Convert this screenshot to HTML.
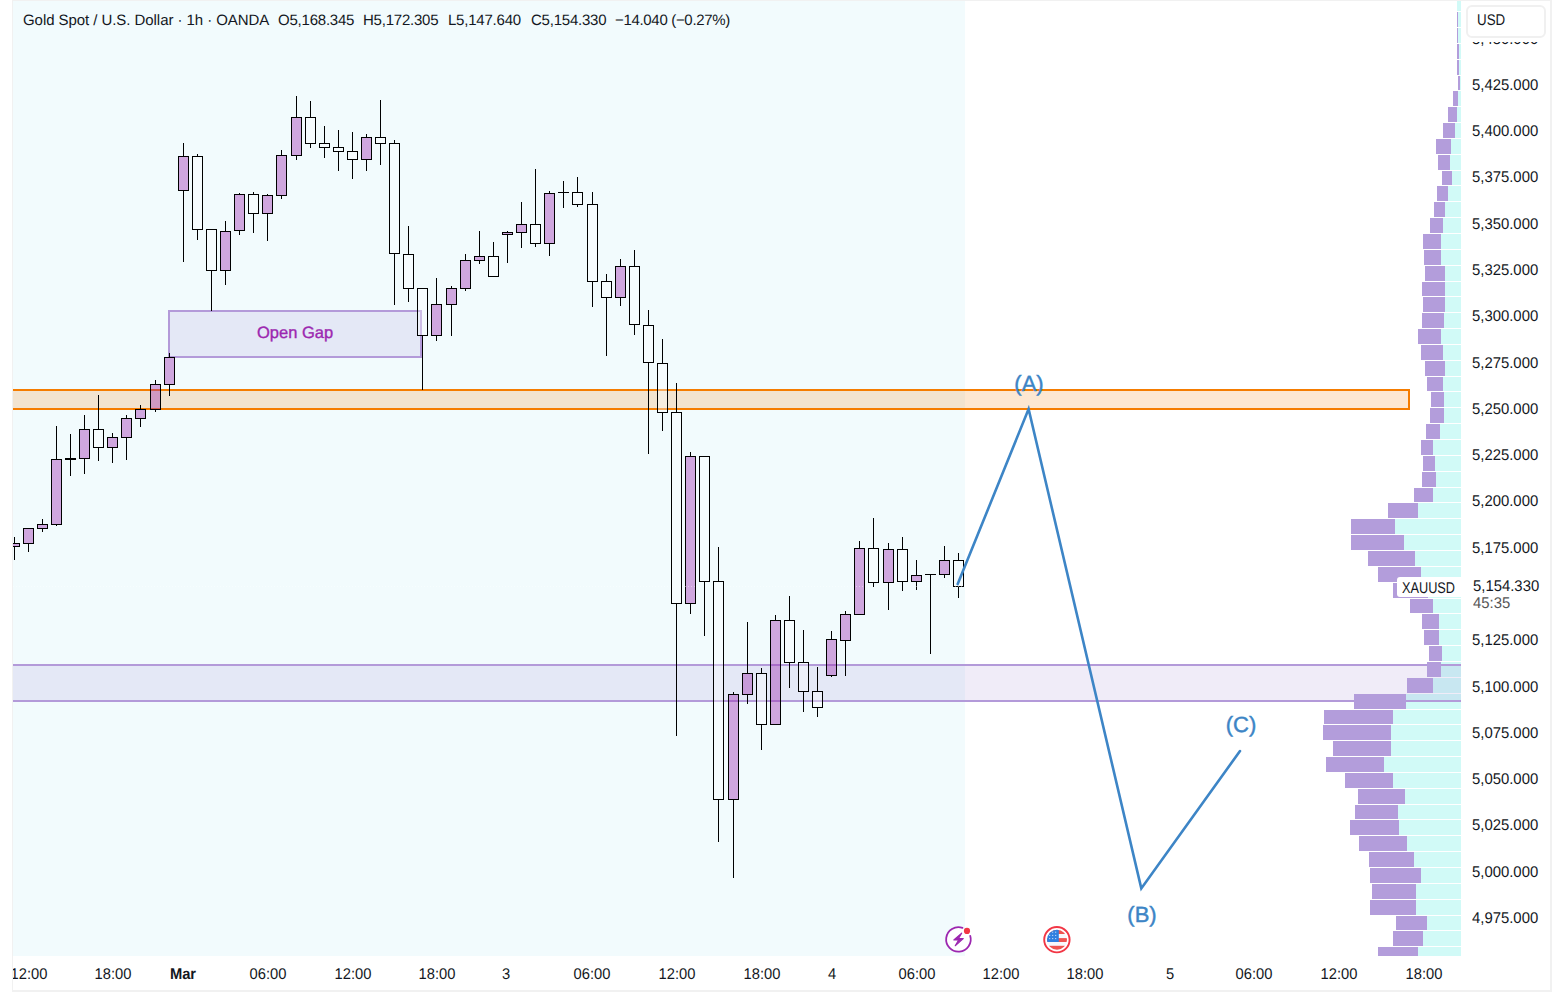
<!DOCTYPE html>
<html><head><meta charset="utf-8">
<style>
html,body{margin:0;padding:0;}
body{text-rendering:geometricPrecision;width:1564px;height:992px;background:#fff;position:relative;overflow:hidden;font-family:"Liberation Sans",sans-serif;color:#131722;}
svg{position:absolute;left:0;top:0;}
.pl{position:absolute;left:1472px;font-size:15.5px;line-height:18px;height:18px;white-space:nowrap;color:#131722;transform:scaleX(0.96);transform-origin:0 0;}
.tl{position:absolute;top:966px;width:80px;text-align:center;font-size:15.5px;line-height:18px;white-space:nowrap;color:#131722;transform:scaleX(0.95);}
.hd{position:absolute;top:11px;font-size:15px;line-height:20px;white-space:nowrap;color:#131722;}
.wl{position:absolute;font-size:22px;line-height:24px;color:#3d85c6;-webkit-text-stroke:0.45px #3d85c6;white-space:nowrap;width:60px;text-align:center;}
</style></head>
<body>
<svg width="1564" height="992" viewBox="0 0 1564 992">
<g shape-rendering="crispEdges">
<rect x="12" y="0" width="1540" height="992" fill="#f1f1f1"/>
<rect x="13" y="1" width="1537" height="989" fill="#ffffff"/>
<rect x="13" y="1" width="952" height="955" fill="#f2fbfd"/>
</g>
<defs><clipPath id="cp"><rect x="13" y="1" width="1448" height="955"/></clipPath></defs>
<g clip-path="url(#cp)">
<g shape-rendering="crispEdges">
<rect x="1457" y="1" width="4" height="10" fill="rgba(0,230,210,0.18)"/>
<rect x="1458" y="12" width="3" height="15" fill="rgba(0,230,210,0.18)"/>
<rect x="1458" y="28" width="3" height="15" fill="rgba(0,230,210,0.18)"/>
<rect x="1459" y="44" width="2" height="15" fill="rgba(0,230,210,0.18)"/>
<rect x="1459" y="60" width="2" height="15" fill="rgba(0,230,210,0.18)"/>
<rect x="1460" y="76" width="1" height="14" fill="rgba(0,230,210,0.18)"/>
<rect x="1458" y="91" width="3" height="15" fill="rgba(0,230,210,0.18)"/>
<rect x="1457" y="107" width="4" height="15" fill="rgba(0,230,210,0.18)"/>
<rect x="1455" y="123" width="6" height="15" fill="rgba(0,230,210,0.18)"/>
<rect x="1451" y="139" width="10" height="15" fill="rgba(0,230,210,0.18)"/>
<rect x="1450" y="155" width="11" height="15" fill="rgba(0,230,210,0.18)"/>
<rect x="1452" y="171" width="9" height="14" fill="rgba(0,230,210,0.18)"/>
<rect x="1448" y="186" width="13" height="15" fill="rgba(0,230,210,0.18)"/>
<rect x="1445" y="202" width="16" height="15" fill="rgba(0,230,210,0.18)"/>
<rect x="1443" y="218" width="18" height="15" fill="rgba(0,230,210,0.18)"/>
<rect x="1441" y="234" width="20" height="15" fill="rgba(0,230,210,0.18)"/>
<rect x="1441" y="250" width="20" height="15" fill="rgba(0,230,210,0.18)"/>
<rect x="1445" y="266" width="16" height="15" fill="rgba(0,230,210,0.18)"/>
<rect x="1445" y="282" width="16" height="14" fill="rgba(0,230,210,0.18)"/>
<rect x="1445" y="297" width="16" height="15" fill="rgba(0,230,210,0.18)"/>
<rect x="1444" y="313" width="17" height="15" fill="rgba(0,230,210,0.18)"/>
<rect x="1441" y="329" width="20" height="15" fill="rgba(0,230,210,0.18)"/>
<rect x="1443" y="345" width="18" height="15" fill="rgba(0,230,210,0.18)"/>
<rect x="1445" y="361" width="16" height="15" fill="rgba(0,230,210,0.18)"/>
<rect x="1443" y="377" width="18" height="14" fill="rgba(0,230,210,0.18)"/>
<rect x="1444" y="392" width="17" height="15" fill="rgba(0,230,210,0.18)"/>
<rect x="1444" y="408" width="17" height="15" fill="rgba(0,230,210,0.18)"/>
<rect x="1440" y="424" width="21" height="15" fill="rgba(0,230,210,0.18)"/>
<rect x="1433" y="440" width="28" height="15" fill="rgba(0,230,210,0.18)"/>
<rect x="1435" y="456" width="26" height="15" fill="rgba(0,230,210,0.18)"/>
<rect x="1436" y="472" width="25" height="15" fill="rgba(0,230,210,0.18)"/>
<rect x="1433" y="488" width="28" height="14" fill="rgba(0,230,210,0.18)"/>
<rect x="1418" y="503" width="43" height="15" fill="rgba(0,230,210,0.18)"/>
<rect x="1395" y="519" width="66" height="15" fill="rgba(0,230,210,0.18)"/>
<rect x="1404" y="535" width="57" height="15" fill="rgba(0,230,210,0.18)"/>
<rect x="1415" y="551" width="46" height="15" fill="rgba(0,230,210,0.18)"/>
<rect x="1421" y="567" width="40" height="15" fill="rgba(0,230,210,0.18)"/>
<rect x="1428" y="583" width="33" height="15" fill="rgba(0,230,210,0.18)"/>
<rect x="1433" y="599" width="28" height="14" fill="rgba(0,230,210,0.18)"/>
<rect x="1439" y="614" width="22" height="15" fill="rgba(0,230,210,0.18)"/>
<rect x="1439" y="630" width="22" height="15" fill="rgba(0,230,210,0.18)"/>
<rect x="1442" y="646" width="19" height="15" fill="rgba(0,230,210,0.18)"/>
<rect x="1441" y="662" width="20" height="15" fill="rgba(0,230,210,0.18)"/>
<rect x="1433" y="678" width="28" height="15" fill="rgba(0,230,210,0.18)"/>
<rect x="1406" y="694" width="55" height="15" fill="rgba(0,230,210,0.18)"/>
<rect x="1393" y="710" width="68" height="14" fill="rgba(0,230,210,0.18)"/>
<rect x="1391" y="725" width="70" height="15" fill="rgba(0,230,210,0.18)"/>
<rect x="1391" y="741" width="70" height="15" fill="rgba(0,230,210,0.18)"/>
<rect x="1384" y="757" width="77" height="15" fill="rgba(0,230,210,0.18)"/>
<rect x="1393" y="773" width="68" height="15" fill="rgba(0,230,210,0.18)"/>
<rect x="1405" y="789" width="56" height="15" fill="rgba(0,230,210,0.18)"/>
<rect x="1398" y="805" width="63" height="14" fill="rgba(0,230,210,0.18)"/>
<rect x="1399" y="820" width="62" height="15" fill="rgba(0,230,210,0.18)"/>
<rect x="1407" y="836" width="54" height="15" fill="rgba(0,230,210,0.18)"/>
<rect x="1414" y="852" width="47" height="15" fill="rgba(0,230,210,0.18)"/>
<rect x="1421" y="868" width="40" height="15" fill="rgba(0,230,210,0.18)"/>
<rect x="1416" y="884" width="45" height="15" fill="rgba(0,230,210,0.18)"/>
<rect x="1416" y="900" width="45" height="15" fill="rgba(0,230,210,0.18)"/>
<rect x="1427" y="916" width="34" height="14" fill="rgba(0,230,210,0.18)"/>
<rect x="1423" y="931" width="38" height="15" fill="rgba(0,230,210,0.18)"/>
<rect x="1418" y="947" width="43" height="9" fill="rgba(0,230,210,0.18)"/>
</g>
<g shape-rendering="crispEdges">
<rect x="13" y="391" width="1395" height="17" fill="rgba(245,124,0,0.18)"/>
<rect x="13" y="389" width="1397" height="2" fill="#f57c00"/>
<rect x="13" y="408" width="1397" height="2" fill="#f57c00"/>
<rect x="1408" y="389" width="2" height="21" fill="#f57c00"/>
<rect x="13" y="666" width="1448" height="34" fill="rgba(149,117,205,0.14)"/>
<rect x="13" y="664" width="1448" height="2" fill="#b39ad9"/>
<rect x="13" y="700" width="1448" height="2" fill="#b39ad9"/>
<rect x="170" y="312" width="250" height="44" fill="rgba(149,117,205,0.14)"/>
<rect x="168" y="310" width="254" height="2" fill="#b39ad9"/>
<rect x="168" y="356" width="254" height="2" fill="#b39ad9"/>
<rect x="168" y="312" width="2" height="44" fill="#b39ad9"/>
<rect x="420" y="312" width="2" height="44" fill="#b39ad9"/>
</g>
<g shape-rendering="crispEdges">
<rect x="1457" y="12" width="1" height="15" fill="#b39ddb"/>
<rect x="1457" y="28" width="1" height="15" fill="#b39ddb"/>
<rect x="1457" y="44" width="2" height="15" fill="#b39ddb"/>
<rect x="1457" y="60" width="2" height="15" fill="#b39ddb"/>
<rect x="1458" y="76" width="2" height="14" fill="#b39ddb"/>
<rect x="1453" y="91" width="5" height="15" fill="#b39ddb"/>
<rect x="1448" y="107" width="9" height="15" fill="#b39ddb"/>
<rect x="1443" y="123" width="12" height="15" fill="#b39ddb"/>
<rect x="1436" y="139" width="15" height="15" fill="#b39ddb"/>
<rect x="1438" y="155" width="12" height="15" fill="#b39ddb"/>
<rect x="1442" y="171" width="10" height="14" fill="#b39ddb"/>
<rect x="1437" y="186" width="11" height="15" fill="#b39ddb"/>
<rect x="1434" y="202" width="11" height="15" fill="#b39ddb"/>
<rect x="1430" y="218" width="13" height="15" fill="#b39ddb"/>
<rect x="1423" y="234" width="18" height="15" fill="#b39ddb"/>
<rect x="1424" y="250" width="17" height="15" fill="#b39ddb"/>
<rect x="1425" y="266" width="20" height="15" fill="#b39ddb"/>
<rect x="1422" y="282" width="23" height="14" fill="#b39ddb"/>
<rect x="1423" y="297" width="22" height="15" fill="#b39ddb"/>
<rect x="1422" y="313" width="22" height="15" fill="#b39ddb"/>
<rect x="1418" y="329" width="23" height="15" fill="#b39ddb"/>
<rect x="1421" y="345" width="22" height="15" fill="#b39ddb"/>
<rect x="1425" y="361" width="20" height="15" fill="#b39ddb"/>
<rect x="1427" y="377" width="16" height="14" fill="#b39ddb"/>
<rect x="1431" y="392" width="13" height="15" fill="#b39ddb"/>
<rect x="1430" y="408" width="14" height="15" fill="#b39ddb"/>
<rect x="1426" y="424" width="14" height="15" fill="#b39ddb"/>
<rect x="1421" y="440" width="12" height="15" fill="#b39ddb"/>
<rect x="1423" y="456" width="12" height="15" fill="#b39ddb"/>
<rect x="1422" y="472" width="14" height="15" fill="#b39ddb"/>
<rect x="1414" y="488" width="19" height="14" fill="#b39ddb"/>
<rect x="1388" y="503" width="30" height="15" fill="#b39ddb"/>
<rect x="1351" y="519" width="44" height="15" fill="#b39ddb"/>
<rect x="1351" y="535" width="53" height="15" fill="#b39ddb"/>
<rect x="1368" y="551" width="47" height="15" fill="#b39ddb"/>
<rect x="1378" y="567" width="43" height="15" fill="#b39ddb"/>
<rect x="1393" y="583" width="35" height="15" fill="#b39ddb"/>
<rect x="1410" y="599" width="23" height="14" fill="#b39ddb"/>
<rect x="1422" y="614" width="17" height="15" fill="#b39ddb"/>
<rect x="1424" y="630" width="15" height="15" fill="#b39ddb"/>
<rect x="1429" y="646" width="13" height="15" fill="#b39ddb"/>
<rect x="1427" y="662" width="14" height="15" fill="#b39ddb"/>
<rect x="1407" y="678" width="26" height="15" fill="#b39ddb"/>
<rect x="1354" y="694" width="52" height="15" fill="#b39ddb"/>
<rect x="1324" y="710" width="69" height="14" fill="#b39ddb"/>
<rect x="1323" y="725" width="68" height="15" fill="#b39ddb"/>
<rect x="1333" y="741" width="58" height="15" fill="#b39ddb"/>
<rect x="1326" y="757" width="58" height="15" fill="#b39ddb"/>
<rect x="1345" y="773" width="48" height="15" fill="#b39ddb"/>
<rect x="1358" y="789" width="47" height="15" fill="#b39ddb"/>
<rect x="1355" y="805" width="43" height="14" fill="#b39ddb"/>
<rect x="1350" y="820" width="49" height="15" fill="#b39ddb"/>
<rect x="1359" y="836" width="48" height="15" fill="#b39ddb"/>
<rect x="1369" y="852" width="45" height="15" fill="#b39ddb"/>
<rect x="1370" y="868" width="51" height="15" fill="#b39ddb"/>
<rect x="1372" y="884" width="44" height="15" fill="#b39ddb"/>
<rect x="1370" y="900" width="46" height="15" fill="#b39ddb"/>
<rect x="1396" y="916" width="31" height="14" fill="#b39ddb"/>
<rect x="1393" y="931" width="30" height="15" fill="#b39ddb"/>
<rect x="1378" y="947" width="40" height="9" fill="#b39ddb"/>
</g>
<g shape-rendering="crispEdges" fill="#000000">
<rect x="14" y="537" width="1" height="6"/>
<rect x="14" y="547" width="1" height="13"/>
<rect x="10" y="544" width="9" height="2" fill="rgba(156,39,176,0.4)"/>
<path d="M9,543h11v4h-11z M10,544v2h9v-2z" fill-rule="evenodd"/>
<rect x="28" y="544" width="1" height="8"/>
<rect x="24" y="529" width="9" height="14" fill="rgba(156,39,176,0.4)"/>
<path d="M23,528h11v16h-11z M24,529v14h9v-14z" fill-rule="evenodd"/>
<rect x="42" y="519" width="1" height="5"/>
<rect x="42" y="529" width="1" height="3"/>
<rect x="38" y="525" width="9" height="3" fill="rgba(156,39,176,0.4)"/>
<path d="M37,524h11v5h-11z M38,525v3h9v-3z" fill-rule="evenodd"/>
<rect x="56" y="426" width="1" height="33"/>
<rect x="56" y="525" width="1" height="1"/>
<rect x="52" y="460" width="9" height="64" fill="rgba(156,39,176,0.4)"/>
<path d="M51,459h11v66h-11z M52,460v64h9v-64z" fill-rule="evenodd"/>
<rect x="70" y="434" width="1" height="42"/>
<rect x="65" y="458" width="11" height="2"/>
<rect x="84" y="415" width="1" height="14"/>
<rect x="84" y="459" width="1" height="15"/>
<rect x="80" y="430" width="9" height="28" fill="rgba(156,39,176,0.4)"/>
<path d="M79,429h11v30h-11z M80,430v28h9v-28z" fill-rule="evenodd"/>
<rect x="98" y="395" width="1" height="34"/>
<rect x="98" y="448" width="1" height="13"/>
<rect x="94" y="430" width="9" height="17" fill="rgba(255,255,255,0.35)"/>
<path d="M93,429h11v19h-11z M94,430v17h9v-17z" fill-rule="evenodd"/>
<rect x="112" y="433" width="1" height="4"/>
<rect x="112" y="448" width="1" height="15"/>
<rect x="108" y="438" width="9" height="9" fill="rgba(156,39,176,0.4)"/>
<path d="M107,437h11v11h-11z M108,438v9h9v-9z" fill-rule="evenodd"/>
<rect x="126" y="415" width="1" height="3"/>
<rect x="126" y="438" width="1" height="22"/>
<rect x="122" y="419" width="9" height="18" fill="rgba(156,39,176,0.4)"/>
<path d="M121,418h11v20h-11z M122,419v18h9v-18z" fill-rule="evenodd"/>
<rect x="140" y="405" width="1" height="4"/>
<rect x="140" y="419" width="1" height="8"/>
<rect x="136" y="410" width="9" height="8" fill="rgba(156,39,176,0.4)"/>
<path d="M135,409h11v10h-11z M136,410v8h9v-8z" fill-rule="evenodd"/>
<rect x="155" y="380" width="1" height="4"/>
<rect x="155" y="410" width="1" height="2"/>
<rect x="151" y="385" width="9" height="24" fill="rgba(156,39,176,0.4)"/>
<path d="M150,384h11v26h-11z M151,385v24h9v-24z" fill-rule="evenodd"/>
<rect x="169" y="353" width="1" height="4"/>
<rect x="169" y="385" width="1" height="11"/>
<rect x="165" y="358" width="9" height="26" fill="rgba(156,39,176,0.4)"/>
<path d="M164,357h11v28h-11z M165,358v26h9v-26z" fill-rule="evenodd"/>
<rect x="183" y="143" width="1" height="13"/>
<rect x="183" y="191" width="1" height="71"/>
<rect x="179" y="157" width="9" height="33" fill="rgba(156,39,176,0.4)"/>
<path d="M178,156h11v35h-11z M179,157v33h9v-33z" fill-rule="evenodd"/>
<rect x="197" y="154" width="1" height="2"/>
<rect x="197" y="230" width="1" height="10"/>
<rect x="193" y="157" width="9" height="72" fill="rgba(255,255,255,0.35)"/>
<path d="M192,156h11v74h-11z M193,157v72h9v-72z" fill-rule="evenodd"/>
<rect x="211" y="271" width="1" height="40"/>
<rect x="207" y="230" width="9" height="40" fill="rgba(255,255,255,0.35)"/>
<path d="M206,229h11v42h-11z M207,230v40h9v-40z" fill-rule="evenodd"/>
<rect x="225" y="221" width="1" height="10"/>
<rect x="225" y="271" width="1" height="14"/>
<rect x="221" y="232" width="9" height="38" fill="rgba(156,39,176,0.4)"/>
<path d="M220,231h11v40h-11z M221,232v38h9v-38z" fill-rule="evenodd"/>
<rect x="239" y="193" width="1" height="1"/>
<rect x="239" y="231" width="1" height="4"/>
<rect x="235" y="195" width="9" height="35" fill="rgba(156,39,176,0.4)"/>
<path d="M234,194h11v37h-11z M235,195v35h9v-35z" fill-rule="evenodd"/>
<rect x="253" y="192" width="1" height="2"/>
<rect x="253" y="214" width="1" height="19"/>
<rect x="249" y="195" width="9" height="18" fill="rgba(255,255,255,0.35)"/>
<path d="M248,194h11v20h-11z M249,195v18h9v-18z" fill-rule="evenodd"/>
<rect x="267" y="194" width="1" height="1"/>
<rect x="267" y="214" width="1" height="27"/>
<rect x="263" y="196" width="9" height="17" fill="rgba(156,39,176,0.4)"/>
<path d="M262,195h11v19h-11z M263,196v17h9v-17z" fill-rule="evenodd"/>
<rect x="281" y="150" width="1" height="5"/>
<rect x="281" y="196" width="1" height="3"/>
<rect x="277" y="156" width="9" height="39" fill="rgba(156,39,176,0.4)"/>
<path d="M276,155h11v41h-11z M277,156v39h9v-39z" fill-rule="evenodd"/>
<rect x="296" y="96" width="1" height="21"/>
<rect x="296" y="156" width="1" height="4"/>
<rect x="292" y="118" width="9" height="37" fill="rgba(156,39,176,0.4)"/>
<path d="M291,117h11v39h-11z M292,118v37h9v-37z" fill-rule="evenodd"/>
<rect x="310" y="101" width="1" height="16"/>
<rect x="310" y="144" width="1" height="4"/>
<rect x="306" y="118" width="9" height="25" fill="rgba(255,255,255,0.35)"/>
<path d="M305,117h11v27h-11z M306,118v25h9v-25z" fill-rule="evenodd"/>
<rect x="324" y="126" width="1" height="17"/>
<rect x="324" y="148" width="1" height="10"/>
<rect x="320" y="144" width="9" height="3" fill="rgba(255,255,255,0.35)"/>
<path d="M319,143h11v5h-11z M320,144v3h9v-3z" fill-rule="evenodd"/>
<rect x="338" y="130" width="1" height="17"/>
<rect x="338" y="152" width="1" height="19"/>
<rect x="334" y="148" width="9" height="3" fill="rgba(255,255,255,0.35)"/>
<path d="M333,147h11v5h-11z M334,148v3h9v-3z" fill-rule="evenodd"/>
<rect x="352" y="132" width="1" height="19"/>
<rect x="352" y="160" width="1" height="19"/>
<rect x="348" y="152" width="9" height="7" fill="rgba(255,255,255,0.35)"/>
<path d="M347,151h11v9h-11z M348,152v7h9v-7z" fill-rule="evenodd"/>
<rect x="366" y="134" width="1" height="3"/>
<rect x="366" y="160" width="1" height="11"/>
<rect x="362" y="138" width="9" height="21" fill="rgba(156,39,176,0.4)"/>
<path d="M361,137h11v23h-11z M362,138v21h9v-21z" fill-rule="evenodd"/>
<rect x="380" y="100" width="1" height="37"/>
<rect x="380" y="144" width="1" height="21"/>
<rect x="376" y="138" width="9" height="5" fill="rgba(255,255,255,0.35)"/>
<path d="M375,137h11v7h-11z M376,138v5h9v-5z" fill-rule="evenodd"/>
<rect x="394" y="140" width="1" height="3"/>
<rect x="394" y="254" width="1" height="51"/>
<rect x="390" y="144" width="9" height="109" fill="rgba(255,255,255,0.35)"/>
<path d="M389,143h11v111h-11z M390,144v109h9v-109z" fill-rule="evenodd"/>
<rect x="408" y="226" width="1" height="28"/>
<rect x="408" y="289" width="1" height="13"/>
<rect x="404" y="255" width="9" height="33" fill="rgba(255,255,255,0.35)"/>
<path d="M403,254h11v35h-11z M404,255v33h9v-33z" fill-rule="evenodd"/>
<rect x="422" y="336" width="1" height="54"/>
<rect x="418" y="289" width="9" height="46" fill="rgba(255,255,255,0.35)"/>
<path d="M417,288h11v48h-11z M418,289v46h9v-46z" fill-rule="evenodd"/>
<rect x="436" y="278" width="1" height="26"/>
<rect x="436" y="336" width="1" height="5"/>
<rect x="432" y="305" width="9" height="30" fill="rgba(156,39,176,0.4)"/>
<path d="M431,304h11v32h-11z M432,305v30h9v-30z" fill-rule="evenodd"/>
<rect x="451" y="286" width="1" height="2"/>
<rect x="451" y="305" width="1" height="31"/>
<rect x="447" y="289" width="9" height="15" fill="rgba(156,39,176,0.4)"/>
<path d="M446,288h11v17h-11z M447,289v15h9v-15z" fill-rule="evenodd"/>
<rect x="465" y="254" width="1" height="6"/>
<rect x="465" y="289" width="1" height="2"/>
<rect x="461" y="261" width="9" height="27" fill="rgba(156,39,176,0.4)"/>
<path d="M460,260h11v29h-11z M461,261v27h9v-27z" fill-rule="evenodd"/>
<rect x="479" y="231" width="1" height="25"/>
<rect x="479" y="261" width="1" height="3"/>
<rect x="475" y="257" width="9" height="3" fill="rgba(156,39,176,0.4)"/>
<path d="M474,256h11v5h-11z M475,257v3h9v-3z" fill-rule="evenodd"/>
<rect x="493" y="242" width="1" height="14"/>
<rect x="489" y="257" width="9" height="19" fill="rgba(255,255,255,0.35)"/>
<path d="M488,256h11v21h-11z M489,257v19h9v-19z" fill-rule="evenodd"/>
<rect x="507" y="231" width="1" height="1"/>
<rect x="507" y="235" width="1" height="28"/>
<rect x="503" y="233" width="9" height="1" fill="rgba(156,39,176,0.4)"/>
<path d="M502,232h11v3h-11z M503,233v1h9v-1z" fill-rule="evenodd"/>
<rect x="521" y="202" width="1" height="22"/>
<rect x="521" y="233" width="1" height="15"/>
<rect x="517" y="225" width="9" height="7" fill="rgba(156,39,176,0.4)"/>
<path d="M516,224h11v9h-11z M517,225v7h9v-7z" fill-rule="evenodd"/>
<rect x="535" y="169" width="1" height="55"/>
<rect x="535" y="244" width="1" height="3"/>
<rect x="531" y="225" width="9" height="18" fill="rgba(255,255,255,0.35)"/>
<path d="M530,224h11v20h-11z M531,225v18h9v-18z" fill-rule="evenodd"/>
<rect x="549" y="191" width="1" height="2"/>
<rect x="549" y="244" width="1" height="12"/>
<rect x="545" y="194" width="9" height="49" fill="rgba(156,39,176,0.4)"/>
<path d="M544,193h11v51h-11z M545,194v49h9v-49z" fill-rule="evenodd"/>
<rect x="563" y="181" width="1" height="27"/>
<rect x="558" y="192" width="11" height="1"/>
<rect x="577" y="177" width="1" height="15"/>
<rect x="577" y="205" width="1" height="2"/>
<rect x="573" y="193" width="9" height="11" fill="rgba(255,255,255,0.35)"/>
<path d="M572,192h11v13h-11z M573,193v11h9v-11z" fill-rule="evenodd"/>
<rect x="592" y="192" width="1" height="12"/>
<rect x="592" y="282" width="1" height="25"/>
<rect x="588" y="205" width="9" height="76" fill="rgba(255,255,255,0.35)"/>
<path d="M587,204h11v78h-11z M588,205v76h9v-76z" fill-rule="evenodd"/>
<rect x="606" y="274" width="1" height="7"/>
<rect x="606" y="298" width="1" height="58"/>
<rect x="602" y="282" width="9" height="15" fill="rgba(255,255,255,0.35)"/>
<path d="M601,281h11v17h-11z M602,282v15h9v-15z" fill-rule="evenodd"/>
<rect x="620" y="259" width="1" height="7"/>
<rect x="620" y="298" width="1" height="8"/>
<rect x="616" y="267" width="9" height="30" fill="rgba(156,39,176,0.4)"/>
<path d="M615,266h11v32h-11z M616,267v30h9v-30z" fill-rule="evenodd"/>
<rect x="634" y="250" width="1" height="16"/>
<rect x="634" y="325" width="1" height="10"/>
<rect x="630" y="267" width="9" height="57" fill="rgba(255,255,255,0.35)"/>
<path d="M629,266h11v59h-11z M630,267v57h9v-57z" fill-rule="evenodd"/>
<rect x="648" y="310" width="1" height="15"/>
<rect x="648" y="363" width="1" height="91"/>
<rect x="644" y="326" width="9" height="36" fill="rgba(255,255,255,0.35)"/>
<path d="M643,325h11v38h-11z M644,326v36h9v-36z" fill-rule="evenodd"/>
<rect x="662" y="339" width="1" height="24"/>
<rect x="662" y="413" width="1" height="18"/>
<rect x="658" y="364" width="9" height="48" fill="rgba(255,255,255,0.35)"/>
<path d="M657,363h11v50h-11z M658,364v48h9v-48z" fill-rule="evenodd"/>
<rect x="676" y="383" width="1" height="29"/>
<rect x="676" y="604" width="1" height="132"/>
<rect x="672" y="413" width="9" height="190" fill="rgba(255,255,255,0.35)"/>
<path d="M671,412h11v192h-11z M672,413v190h9v-190z" fill-rule="evenodd"/>
<rect x="690" y="452" width="1" height="4"/>
<rect x="690" y="604" width="1" height="10"/>
<rect x="686" y="457" width="9" height="146" fill="rgba(156,39,176,0.4)"/>
<path d="M685,456h11v148h-11z M686,457v146h9v-146z" fill-rule="evenodd"/>
<rect x="704" y="582" width="1" height="54"/>
<rect x="700" y="457" width="9" height="124" fill="rgba(255,255,255,0.35)"/>
<path d="M699,456h11v126h-11z M700,457v124h9v-124z" fill-rule="evenodd"/>
<rect x="718" y="547" width="1" height="34"/>
<rect x="718" y="800" width="1" height="42"/>
<rect x="714" y="582" width="9" height="217" fill="rgba(255,255,255,0.35)"/>
<path d="M713,581h11v219h-11z M714,582v217h9v-217z" fill-rule="evenodd"/>
<rect x="733" y="692" width="1" height="2"/>
<rect x="733" y="800" width="1" height="78"/>
<rect x="729" y="695" width="9" height="104" fill="rgba(156,39,176,0.4)"/>
<path d="M728,694h11v106h-11z M729,695v104h9v-104z" fill-rule="evenodd"/>
<rect x="747" y="622" width="1" height="51"/>
<rect x="747" y="695" width="1" height="9"/>
<rect x="743" y="674" width="9" height="20" fill="rgba(156,39,176,0.4)"/>
<path d="M742,673h11v22h-11z M743,674v20h9v-20z" fill-rule="evenodd"/>
<rect x="761" y="668" width="1" height="5"/>
<rect x="761" y="725" width="1" height="25"/>
<rect x="757" y="674" width="9" height="50" fill="rgba(255,255,255,0.35)"/>
<path d="M756,673h11v52h-11z M757,674v50h9v-50z" fill-rule="evenodd"/>
<rect x="775" y="615" width="1" height="5"/>
<rect x="771" y="621" width="9" height="103" fill="rgba(156,39,176,0.4)"/>
<path d="M770,620h11v105h-11z M771,621v103h9v-103z" fill-rule="evenodd"/>
<rect x="789" y="596" width="1" height="24"/>
<rect x="789" y="663" width="1" height="25"/>
<rect x="785" y="621" width="9" height="41" fill="rgba(255,255,255,0.35)"/>
<path d="M784,620h11v43h-11z M785,621v41h9v-41z" fill-rule="evenodd"/>
<rect x="803" y="630" width="1" height="32"/>
<rect x="803" y="692" width="1" height="20"/>
<rect x="799" y="663" width="9" height="28" fill="rgba(255,255,255,0.35)"/>
<path d="M798,662h11v30h-11z M799,663v28h9v-28z" fill-rule="evenodd"/>
<rect x="817" y="667" width="1" height="24"/>
<rect x="817" y="708" width="1" height="9"/>
<rect x="813" y="692" width="9" height="15" fill="rgba(255,255,255,0.35)"/>
<path d="M812,691h11v17h-11z M813,692v15h9v-15z" fill-rule="evenodd"/>
<rect x="831" y="631" width="1" height="8"/>
<rect x="831" y="676" width="1" height="1"/>
<rect x="827" y="640" width="9" height="35" fill="rgba(156,39,176,0.4)"/>
<path d="M826,639h11v37h-11z M827,640v35h9v-35z" fill-rule="evenodd"/>
<rect x="845" y="611" width="1" height="3"/>
<rect x="845" y="641" width="1" height="35"/>
<rect x="841" y="615" width="9" height="25" fill="rgba(156,39,176,0.4)"/>
<path d="M840,614h11v27h-11z M841,615v25h9v-25z" fill-rule="evenodd"/>
<rect x="859" y="541" width="1" height="7"/>
<rect x="855" y="549" width="9" height="65" fill="rgba(156,39,176,0.4)"/>
<path d="M854,548h11v67h-11z M855,549v65h9v-65z" fill-rule="evenodd"/>
<rect x="873" y="518" width="1" height="30"/>
<rect x="873" y="583" width="1" height="4"/>
<rect x="869" y="549" width="9" height="33" fill="rgba(255,255,255,0.35)"/>
<path d="M868,548h11v35h-11z M869,549v33h9v-33z" fill-rule="evenodd"/>
<rect x="888" y="543" width="1" height="6"/>
<rect x="888" y="583" width="1" height="27"/>
<rect x="884" y="550" width="9" height="32" fill="rgba(156,39,176,0.4)"/>
<path d="M883,549h11v34h-11z M884,550v32h9v-32z" fill-rule="evenodd"/>
<rect x="902" y="537" width="1" height="12"/>
<rect x="902" y="582" width="1" height="9"/>
<rect x="898" y="550" width="9" height="31" fill="rgba(255,255,255,0.35)"/>
<path d="M897,549h11v33h-11z M898,550v31h9v-31z" fill-rule="evenodd"/>
<rect x="916" y="560" width="1" height="15"/>
<rect x="916" y="582" width="1" height="8"/>
<rect x="912" y="576" width="9" height="5" fill="rgba(156,39,176,0.4)"/>
<path d="M911,575h11v7h-11z M912,576v5h9v-5z" fill-rule="evenodd"/>
<rect x="930" y="574" width="1" height="80"/>
<rect x="925" y="574" width="11" height="1"/>
<rect x="944" y="546" width="1" height="14"/>
<rect x="944" y="575" width="1" height="3"/>
<rect x="940" y="561" width="9" height="13" fill="rgba(156,39,176,0.4)"/>
<path d="M939,560h11v15h-11z M940,561v13h9v-13z" fill-rule="evenodd"/>
<rect x="958" y="553" width="1" height="7"/>
<rect x="958" y="587" width="1" height="11"/>
<rect x="954" y="561" width="9" height="25" fill="rgba(255,255,255,0.35)"/>
<path d="M953,560h11v27h-11z M954,561v25h9v-25z" fill-rule="evenodd"/>
</g>
<line x1="13" y1="586.5" x2="965" y2="586.5" stroke="rgba(255,255,255,0.42)" stroke-width="1" stroke-dasharray="1 2" shape-rendering="crispEdges"/>
<polyline points="957.7,584.1 1028.6,409 1141.3,888.4 1240,751" fill="none" stroke="#3d85c6" stroke-width="2.6" stroke-linejoin="miter" stroke-linecap="round"/>
</g>
</svg>
<div style="position:absolute;left:257px;top:323px;font-size:16.5px;line-height:20px;color:#9c27b0;-webkit-text-stroke:0.35px #9c27b0;white-space:nowrap;">Open Gap</div>
<div class="wl" style="left:999px;top:372px;">(A)</div>
<div class="wl" style="left:1112px;top:903px;">(B)</div>
<div class="wl" style="left:1211px;top:713px;">(C)</div>
<div class="pl" style="top:910.0px">4,975.000</div>
<div class="pl" style="top:863.7px">5,000.000</div>
<div class="pl" style="top:817.4px">5,025.000</div>
<div class="pl" style="top:771.1px">5,050.000</div>
<div class="pl" style="top:724.8px">5,075.000</div>
<div class="pl" style="top:678.5px">5,100.000</div>
<div class="pl" style="top:632.2px">5,125.000</div>
<div class="pl" style="top:539.6px">5,175.000</div>
<div class="pl" style="top:493.3px">5,200.000</div>
<div class="pl" style="top:447.0px">5,225.000</div>
<div class="pl" style="top:400.7px">5,250.000</div>
<div class="pl" style="top:354.5px">5,275.000</div>
<div class="pl" style="top:308.2px">5,300.000</div>
<div class="pl" style="top:261.9px">5,325.000</div>
<div class="pl" style="top:215.6px">5,350.000</div>
<div class="pl" style="top:169.3px">5,375.000</div>
<div class="pl" style="top:123.0px">5,400.000</div>
<div class="pl" style="top:76.7px">5,425.000</div>
<div class="pl" style="top:31.4px">5,450.000</div>
<div style="position:absolute;left:1397px;top:577px;width:64px;height:20px;background:#fff;border-radius:3px 0 0 3px;"></div>
<div style="position:absolute;left:1402px;top:579.5px;font-size:15.5px;line-height:18px;color:#131722;transform:scaleX(0.82);transform-origin:0 0;">XAUUSD</div>
<div class="pl" style="top:578.3px;left:1473px;">5,154.330</div>
<div class="pl" style="top:595.3px;left:1473px;color:#555;">45:35</div>
<div style="position:absolute;left:1462px;top:1px;width:88px;height:40.6px;background:#fff;"></div>
<div style="position:absolute;left:1466px;top:5px;width:76px;height:29px;border:2px solid #f0f0f0;border-radius:6px;background:#fff;"></div>
<div style="position:absolute;left:1477px;top:12px;font-size:15.5px;line-height:18px;color:#131722;transform:scaleX(0.86);transform-origin:0 0;">USD</div>
<div style="position:absolute;left:13px;top:0;width:1537px;height:992px;overflow:hidden;"><div style="position:absolute;left:-13px;top:0;width:1564px;height:992px;">
<div class="tl" style="left:-11.5px;">12:00</div>
<div class="tl" style="left:72.5px;">18:00</div>
<div class="tl" style="left:142.5px;font-weight:bold;">Mar</div>
<div class="tl" style="left:227.5px;">06:00</div>
<div class="tl" style="left:312.5px;">12:00</div>
<div class="tl" style="left:396.5px;">18:00</div>
<div class="tl" style="left:466px;">3</div>
<div class="tl" style="left:552px;">06:00</div>
<div class="tl" style="left:636.5px;">12:00</div>
<div class="tl" style="left:721.5px;">18:00</div>
<div class="tl" style="left:791.5px;">4</div>
<div class="tl" style="left:876.5px;">06:00</div>
<div class="tl" style="left:960.6px;">12:00</div>
<div class="tl" style="left:1045.4px;">18:00</div>
<div class="tl" style="left:1129.5px;">5</div>
<div class="tl" style="left:1214px;">06:00</div>
<div class="tl" style="left:1299px;">12:00</div>
<div class="tl" style="left:1383.5px;">18:00</div>
</div></div>
<div class="hd" style="left:23px;letter-spacing:-0.06px;">Gold Spot / U.S. Dollar · 1h · OANDA</div>
<div class="hd" style="left:278px;letter-spacing:-0.22px;">O5,168.345</div>
<div class="hd" style="left:363px;letter-spacing:-0.22px;">H5,172.305</div>
<div class="hd" style="left:448px;letter-spacing:-0.22px;">L5,147.640</div>
<div class="hd" style="left:531px;letter-spacing:-0.22px;">C5,154.330</div>
<div class="hd" style="left:615px;letter-spacing:-0.32px;">−14.040 (−0.27%)</div>
<svg width="1564" height="992" viewBox="0 0 1564 992" style="pointer-events:none">
<circle cx="958.4" cy="939.4" r="12" fill="#fff"/>
<path d="M970.2,935.8 A12.3,12.3 0 1 1 962.5,927.8" fill="none" stroke="#9c27b0" stroke-width="1.8" stroke-linecap="round"/>
<circle cx="967" cy="930.9" r="3.1" fill="#f23645"/>
<path d="M961.7,933.1 L953.8,940 L958.6,940 L955.2,945.8 L963.3,938.6 L958.4,938.6 Z" fill="#9c27b0" stroke="#9c27b0" stroke-width="1.1" stroke-linejoin="round"/>
<circle cx="1056.9" cy="939.7" r="12.7" fill="#fff" stroke="#f23645" stroke-width="1.9"/>
<clipPath id="flagc"><circle cx="1057" cy="939.7" r="10"/></clipPath>
<g clip-path="url(#flagc)">
<rect x="1046" y="929" width="22" height="22" fill="#f7f8fc"/>
<rect x="1046" y="929.7" width="22" height="4.3" fill="#ef5350"/>
<rect x="1046" y="938.1" width="22" height="3.9" fill="#ef5350"/>
<rect x="1046" y="945.8" width="22" height="4.5" fill="#ef5350"/>
<rect x="1046" y="929" width="12.8" height="13" fill="#2f7fe0"/>
<g fill="#dfe9fb">
<rect x="1052.2" y="931.7" width="1" height="1"/><rect x="1055.2" y="931.7" width="1" height="1"/>
<rect x="1049.2" y="934.9" width="1" height="1"/><rect x="1052.2" y="934.9" width="1" height="1"/><rect x="1055.2" y="934.9" width="1" height="1"/>
<rect x="1049.2" y="938.1" width="1" height="1"/><rect x="1052.2" y="938.1" width="1" height="1"/><rect x="1055.2" y="938.1" width="1" height="1"/>
</g>
</g>
</svg>
</body></html>
